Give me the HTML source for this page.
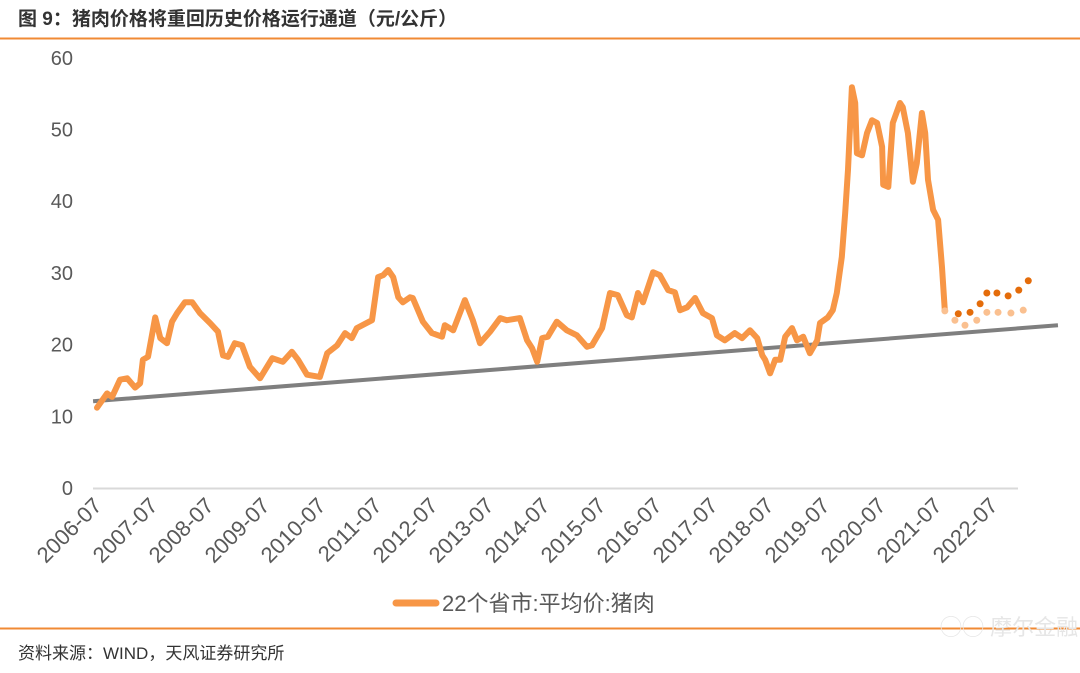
<!DOCTYPE html>
<html><head><meta charset="utf-8"><style>
body{margin:0;background:#fff;width:1080px;height:668px;overflow:hidden;font-family:"Liberation Sans","Noto Sans CJK SC",sans-serif}
</style></head><body>
<svg width="1080" height="668" xmlns="http://www.w3.org/2000/svg">
<text x="18" y="25" font-size="19" font-weight="bold" fill="#333" font-family="Liberation Sans, Noto Sans CJK SC, sans-serif">图 9：猪肉价格将重回历史价格运行通道（元/公斤）</text>
<line x1="0" y1="38.5" x2="1080" y2="38.5" stroke="#f08a34" stroke-width="2"/>
<g id="yaxis"></g>
<g id="xaxis"></g>
<g id="plot"></g>
<g>
<line x1="396" y1="603" x2="436" y2="603" stroke="#f79646" stroke-width="7" stroke-linecap="round"/>
<text x="442" y="611" font-size="22" fill="#595959" font-family="Liberation Sans, Noto Sans CJK SC, sans-serif">22个省市:平均价:猪肉</text>
</g>
<line x1="0" y1="628.5" x2="1080" y2="628.5" stroke="#f08a34" stroke-width="2"/>
<text x="940" y="635" font-size="22" fill="#e6e6e6" font-family="Liberation Sans, Noto Sans CJK SC, sans-serif">◯◯ 摩尔金融</text>
<text x="18" y="659" font-size="17" fill="#333" font-family="Liberation Sans, Noto Sans CJK SC, sans-serif">资料来源：WIND，天风证券研究所</text>
</svg>
<script>
const dates=[2006.50,2006.68,2006.77,2006.91,2007.04,2007.18,2007.27,2007.32,2007.41,2007.54,2007.63,2007.75,2007.84,2007.93,2008.07,2008.20,2008.34,2008.52,2008.66,2008.75,2008.84,2008.96,2009.09,2009.23,2009.41,2009.63,2009.82,2009.98,2010.09,2010.25,2010.48,2010.61,2010.79,2010.93,2011.05,2011.14,2011.41,2011.52,2011.61,2011.70,2011.79,2011.88,2011.96,2012.09,2012.14,2012.32,2012.48,2012.66,2012.71,2012.86,2013.07,2013.21,2013.34,2013.52,2013.70,2013.82,2014.05,2014.18,2014.27,2014.36,2014.45,2014.55,2014.71,2014.89,2015.07,2015.25,2015.34,2015.52,2015.66,2015.80,2015.96,2016.05,2016.16,2016.25,2016.43,2016.55,2016.70,2016.82,2016.91,2017.04,2017.18,2017.32,2017.48,2017.57,2017.71,2017.89,2018.02,2018.16,2018.29,2018.38,2018.43,2018.52,2018.61,2018.70,2018.79,2018.91,2019.00,2019.11,2019.23,2019.36,2019.41,2019.55,2019.64,2019.71,2019.80,2019.86,2019.91,2019.98,2020.04,2020.07,2020.16,2020.25,2020.34,2020.43,2020.52,2020.54,2020.63,2020.71,2020.84,2020.89,2020.98,2021.07,2021.14,2021.23,2021.29,2021.34,2021.43,2021.52,2021.59,2021.64];
const prices=[11.2,13.2,12.7,15.1,15.3,14.0,14.6,17.9,18.3,23.8,20.9,20.2,23.2,24.4,25.9,25.9,24.4,23.0,21.8,18.5,18.3,20.2,19.9,16.9,15.3,18.1,17.6,19.0,17.9,15.8,15.5,18.8,19.9,21.6,20.9,22.3,23.4,29.4,29.7,30.4,29.4,26.6,25.9,26.6,26.5,23.2,21.6,21.1,22.7,22.0,26.2,23.4,20.2,21.8,23.7,23.4,23.7,20.6,19.5,17.6,20.9,21.1,23.2,22.0,21.3,19.7,19.9,22.3,27.2,26.9,24.1,23.8,27.2,25.9,30.1,29.7,27.6,27.3,24.8,25.2,26.5,24.4,23.7,21.3,20.6,21.6,20.9,22.0,20.9,18.5,17.9,16.0,17.9,17.9,21.1,22.3,20.6,21.1,18.8,20.6,23.0,23.8,24.8,27.2,32.2,38.4,44.4,55.9,53.7,46.7,46.4,49.5,51.3,50.9,47.6,42.3,42.0,50.9,53.7,53.1,49.5,42.7,45.3,52.3,49.5,43.0,38.8,37.4,30.8,24.8];
const fcHighDates=[2021.88,2022.09,2022.27,2022.39,2022.57,2022.77,2022.96,2023.13];
const fcHigh=[24.3,24.5,25.7,27.2,27.2,26.8,27.6,28.9];
const fcLowDates=[2021.64,2021.82,2022.00,2022.21,2022.39,2022.59,2022.82,2023.04];
const fcLow=[24.7,23.4,22.7,23.4,24.5,24.5,24.4,24.8];
const trendDates=[2006.43,2023.66];
const trendValues=[12.1,22.7];
const yTicks=[0,10,20,30,40,50,60];
const xTicks=["2006-07","2007-07","2008-07","2009-07","2010-07","2011-07","2012-07","2013-07","2014-07","2015-07","2016-07","2017-07","2018-07","2019-07","2020-07","2021-07","2022-07"];

const NS="http://www.w3.org/2000/svg";
const X=t=>97+56*(t-2006.5);
const Y=v=>488-7.17*v;
function mk(tag,attrs,parent){const e=document.createElementNS(NS,tag);for(const k in attrs)e.setAttribute(k,attrs[k]);parent.appendChild(e);return e;}
const ya=document.getElementById('yaxis'),xa=document.getElementById('xaxis'),pl=document.getElementById('plot');
yTicks.forEach(v=>{const t=mk('text',{x:73,y:Y(v)+7,'text-anchor':'end','font-size':20,fill:'#595959','font-family':'Liberation Sans, sans-serif'},ya);t.textContent=v;

});
const ax=mk('line',{x1:93,y1:488.5,x2:1018,y2:488.5,stroke:'#d9d9d9','stroke-width':2},xa);


xTicks.forEach(s=>{const t=parseInt(s)+0.5;const px=X(t)+6,py=507;
const e=mk('text',{x:px,y:py,'text-anchor':'end','font-size':22,fill:'#595959','font-family':'Liberation Sans, sans-serif',transform:`rotate(-45 ${px} ${py})`},xa);e.textContent=s;

});
const tr=mk('line',{x1:X(trendDates[0]),y1:Y(trendValues[0]),x2:X(trendDates[1]),y2:Y(trendValues[1]),stroke:'#7f7f7f','stroke-width':4},pl);


const d=dates.map((t,i)=>(i?'L':'M')+X(t).toFixed(1)+' '+Y(prices[i]).toFixed(1)).join(' ');
const p=mk('path',{d:d,fill:'none',stroke:'#f79646','stroke-width':6,'stroke-linejoin':'round','stroke-linecap':'round'},pl);


fcLowDates.forEach((t,i)=>{const c=mk('circle',{cx:X(t),cy:Y(fcLow[i]),r:3.5,fill:'#fac090'},pl);

});
fcHighDates.forEach((t,i)=>{const c=mk('circle',{cx:X(t),cy:Y(fcHigh[i]),r:3.5,fill:'#e46c0a'},pl);

});
</script>
</body></html>
